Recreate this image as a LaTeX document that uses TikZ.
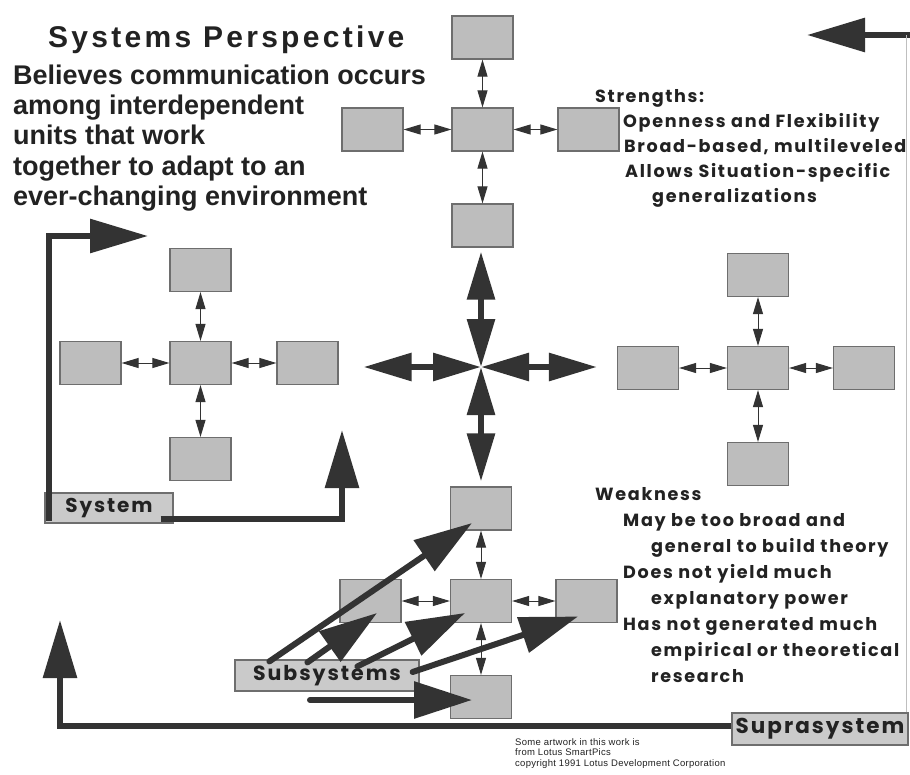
\documentclass[tikz,border=0pt]{standalone}
\usepackage{fontspec}
\setmainfont{Liberation Sans}
\newfontfamily\gothic{Poppins}
\newfontfamily\gothicsp{Poppins}[LetterSpace=9.5]
\newfontfamily\titlefont{Liberation Sans}[LetterSpace=11]
\newfontfamily\creditfont{Liberation Sans}[LetterSpace=3]
\usetikzlibrary{arrows.meta}
\definecolor{boxfill}{HTML}{BDBDBD}
\definecolor{boxline}{HTML}{6E6E6E}
\definecolor{ink}{HTML}{333333}
\definecolor{txt}{HTML}{222222}
\begin{document}
\begin{tikzpicture}[x=1pt,y=-1pt,
  box/.style={draw=boxline, fill=boxfill, line width=1.2pt, minimum width=61pt, minimum height=43pt, inner sep=0pt},
  lbl/.style={draw=boxline, fill=boxfill!80!white, line width=1.2pt, inner sep=0pt, text=txt},
  dbl/.style={draw=ink, line width=1pt, {Triangle[length=17pt,width=10pt]}-{Triangle[length=17pt,width=10pt]}},
  bigdbl/.style={draw=ink, line width=6pt, {Triangle[length=48pt,width=27pt]}-{Triangle[length=48pt,width=27pt]}},
  fat/.style={draw=ink, line width=6pt, -{Triangle[length=58pt,width=33pt]}},
  subarr/.style={draw=ink, line width=6pt, line cap=round, -{Triangle[length=58pt,width=36pt]}},
  edge/.style={draw=gray!50, line width=0.8pt},
  txtblock/.style={anchor=base west, inner sep=0pt, align=left, text=txt}
]
\useasboundingbox (0,0) rectangle (910,774);
\fill[white] (0,0) rectangle (910,774);

% ---- texts (anchor = baseline of the last line)
\node[txtblock, font=\titlefont\bfseries\fontsize{30}{30}\selectfont] (title) at (48,47) {Systems Perspective};
\node[txtblock, font=\bfseries\fontsize{27}{30.4}\selectfont] (intro) at (13,205.6)
  {Believes communication occurs\\among interdependent\\units that work\\together to adapt to an\\ever-changing environment};
\node[txtblock, font=\gothicsp\bfseries\fontsize{17.6}{25}\selectfont] (strengths) at (595,202)
  {Strengths:\\\hspace*{28pt}Openness and Flexibility\\\hspace*{29pt}Broad-based, multileveled\\\hspace*{30pt}Allows Situation-specific\\\hspace*{57pt}generalizations};
\node[txtblock, font=\gothicsp\bfseries\fontsize{17.6}{26}\selectfont] (weakness) at (595,682)
  {Weakness\\\hspace*{28pt}May be too broad and\\\hspace*{56pt}general to build theory\\\hspace*{28pt}Does not yield much\\\hspace*{56pt}explanatory power\\\hspace*{28pt}Has not generated much\\\hspace*{56pt}empirical or theoretical\\\hspace*{56pt}research};
\node[txtblock, font=\creditfont\fontsize{9.5}{10.5}\selectfont] (credit) at (515,766)
  {Some artwork in this work is\\from Lotus SmartPics\\copyright 1991 Lotus Development Corporation};

% ---- top cluster
\node[box] (tc) at (482.5,129.5) {};
\node[box] (tt) at (482.5,37.5) {};
\node[box] (tl) at (372.5,129.5) {};
\node[box] (tr) at (588.5,129.5) {};
\node[box] (tb) at (482.5,225.5) {};
\draw[dbl] (tc) -- (tt);
\draw[dbl] (tc) -- (tl);
\draw[dbl] (tc) -- (tr);
\draw[dbl] (tc) -- (tb);

% ---- left cluster
\node[box] (lc) at (200.5,363) {};
\node[box] (lt) at (200.5,270) {};
\node[box] (ll) at (90.5,363) {};
\node[box] (lr) at (307.5,363) {};
\node[box] (lb) at (200.5,459) {};
\draw[dbl] (lc) -- (lt);
\draw[dbl] (lc) -- (ll);
\draw[dbl] (lc) -- (lr);
\draw[dbl] (lc) -- (lb);

% ---- right cluster
\node[box] (rc) at (758,368) {};
\node[box] (rt) at (758,275) {};
\node[box] (rl) at (648,368) {};
\node[box] (rr) at (864,368) {};
\node[box] (rb) at (758,464) {};
\draw[dbl] (rc) -- (rt);
\draw[dbl] (rc) -- (rl);
\draw[dbl] (rc) -- (rr);
\draw[dbl] (rc) -- (rb);

% ---- bottom cluster
\node[box] (bc) at (481,601) {};
\node[box] (bt) at (481,508.5) {};
\node[box] (bl) at (370.5,601) {};
\node[box] (br) at (586.5,601) {};
\node[box] (bb) at (481,697) {};
\draw[dbl] (bc) -- (bt);
\draw[dbl] (bc) -- (bl);
\draw[dbl] (bc) -- (br);
\draw[dbl] (bc) -- (bb);

% ---- central cross
\coordinate (cc) at (481,367);
\draw[bigdbl, shorten >=4pt] (cc) -- (cc |- tb.south);
\draw[bigdbl, shorten >=25pt] (cc) -- (cc -| lr.east);
\draw[bigdbl, shorten >=20pt] (cc) -- (cc -| rl.west);
\draw[bigdbl, shorten >=5pt] (cc) -- (cc |- bt.north);

% ---- labels
\node[lbl, minimum width=128pt, minimum height=30pt, font=\gothicsp\bfseries\fontsize{20}{21}\selectfont] (sys) at (109,508) {System};
\node[lbl, minimum width=184pt, minimum height=31pt, font=\gothicsp\bfseries\fontsize{20.5}{22}\selectfont] (sub) at (327,675.5) {Subsystems};
\node[lbl, minimum width=176pt, minimum height=32pt, font=\gothicsp\bfseries\fontsize{21.5}{23}\selectfont] (supra) at (820,729) {Suprasystem};

% ---- system arrows
\coordinate (sysTip) at (148,236);
\coordinate (sysTip2) at (342,430);
\draw[fat] ([xshift=5pt,yshift=3pt]sys.south west) |- (sysTip);
\draw[fat] ([xshift=-13pt,yshift=5pt]sys.south east) -| (sysTip2);

% ---- suprasystem arrows
\coordinate (supTip) at (60,620);
\draw[fat] ([yshift=3pt]supra.west) -| (supTip);
\coordinate (trEnd) at (912,35);
\coordinate (trTip) at (807,35);
\draw[fat] (trEnd) -- (trTip);
\draw[edge] ([xshift=-2pt]supra.north east) -- ([xshift=-2pt]supra.north east |- trEnd);

% ---- subsystem arrows
\coordinate (s5) at (310,700);
\draw[subarr] ([xshift=35pt,yshift=-2pt]sub.north west) -- ([xshift=-9pt,yshift=-14.5pt]bt.center);
\draw[subarr] ([xshift=73pt,yshift=-3pt]sub.north west) -- ([xshift=6.5pt,yshift=-12pt]bl.center);
\draw[subarr] ([xshift=123pt,yshift=-7pt]sub.north west) -- ([xshift=-16pt,yshift=-12pt]bc.center);
\draw[subarr] ([xshift=-7pt,yshift=3.5pt]sub.east) -- ([xshift=-8.5pt,yshift=-15.5pt]br.center);
\draw[subarr] (s5) -- ([xshift=-9pt,yshift=-3pt]bb.center);
\end{tikzpicture}
\end{document}
